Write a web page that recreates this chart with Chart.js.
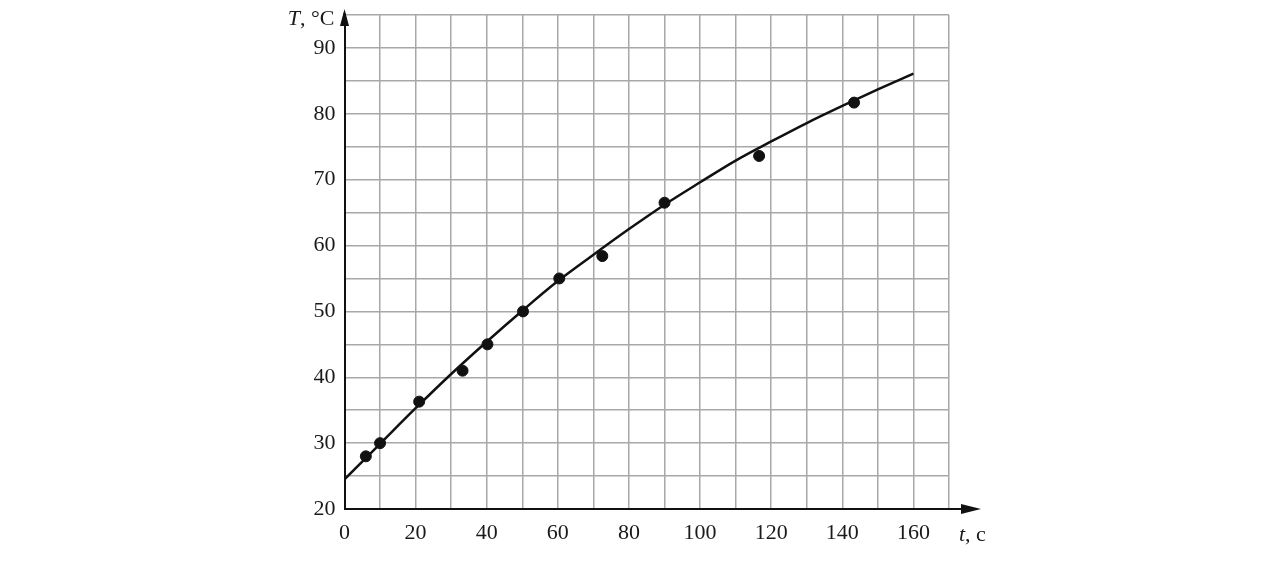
<!DOCTYPE html>
<html>
<head>
<meta charset="utf-8">
<script src="https://cdn.jsdelivr.net/npm/chart.js@4/dist/chart.umd.min.js"></script>
<style>
    html, body { margin: 0; padding: 0; background: #fff; }
    .chart-wrap { width: 1287px; height: 588px; position: relative; }
</style>
</head>
<body>
<div class="chart-wrap"><canvas id="myChart"></canvas></div>
<script>
'use strict'

// measured points
const pointTimes = [6, 10, 21, 33.2, 40.2, 50.2, 60.4, 72.5, 90, 116.6, 143.3]
const pointTemps = [28, 30, 36.3, 41, 45, 50, 55, 58.4, 66.5, 73.6, 81.7]

// fitted curve, every 10 s
const curveTimes = [0, 10, 20, 30, 40, 50, 60, 70, 80, 90, 100, 110, 120, 130, 140, 150, 160]
const curveTemps = [24.5, 29.9, 35.3, 40.5, 45.4, 50.1, 54.6, 58.6, 62.5, 66.2, 69.6, 72.9, 75.8, 78.6, 81.2, 83.7, 86.1]

// axes
const xRange = [0, 170]
const yRange = [20, 95]
const xLabelStep = 20
const yLabelStep = 10
const xLastLabel = 160
const yLastLabel = 90
const xTitle = ['t', ', c']
const yTitle = ['T', ', °C']

const FONT = 'Liberation Serif, Times New Roman, serif'
const FSIZE = 22

document.addEventListener("DOMContentLoaded", () => {
    Diagramm()
})

function toXY(xs, ys) {
    return xs.map((x, i) => ({ x: x, y: ys[i] }))
}

const axisArrows = {
    id: 'axisArrows',
    afterDraw(chart) {
        const ctx = chart.ctx
        const a = chart.chartArea
        ctx.save()
        ctx.strokeStyle = '#111'
        ctx.fillStyle = '#111'
        ctx.lineWidth = 2

        // x axis extension + arrow
        ctx.beginPath()
        ctx.moveTo(a.right, a.bottom)
        ctx.lineTo(a.right + 20, a.bottom)
        ctx.stroke()
        ctx.beginPath()
        ctx.moveTo(a.right + 32, a.bottom)
        ctx.lineTo(a.right + 12, a.bottom - 5)
        ctx.lineTo(a.right + 12, a.bottom + 5)
        ctx.closePath()
        ctx.fill()

        // y axis extension + arrow
        ctx.beginPath()
        ctx.moveTo(a.left, a.top)
        ctx.lineTo(a.left, a.top - 2)
        ctx.stroke()
        ctx.beginPath()
        ctx.moveTo(a.left, a.top - 6)
        ctx.lineTo(a.left - 4.5, a.top + 11)
        ctx.lineTo(a.left + 4.5, a.top + 11)
        ctx.closePath()
        ctx.fill()

        // axis titles
        ctx.fillStyle = '#1a1a1a'
        ctx.textBaseline = 'alphabetic'
        ctx.textAlign = 'left'
        let x = a.right + 10
        let y = a.bottom + 32
        ctx.font = 'italic ' + FSIZE + 'px ' + FONT
        ctx.fillText(xTitle[0], x, y)
        x += ctx.measureText(xTitle[0]).width
        ctx.font = FSIZE + 'px ' + FONT
        ctx.fillText(xTitle[1], x, y)

        ctx.font = 'italic ' + FSIZE + 'px ' + FONT
        const w0 = ctx.measureText(yTitle[0]).width
        ctx.font = FSIZE + 'px ' + FONT
        const w1 = ctx.measureText(yTitle[1]).width
        x = a.left - 10 - w0 - w1
        y = a.top + 10
        ctx.font = 'italic ' + FSIZE + 'px ' + FONT
        ctx.fillText(yTitle[0], x, y)
        ctx.font = FSIZE + 'px ' + FONT
        ctx.fillText(yTitle[1], x + w0, y)
        ctx.restore()
    }
}

function Diagramm() {
    const ctx = document.getElementById('myChart').getContext('2d')

    const chart = new Chart(ctx, {
        type: 'scatter',
        data: {
            datasets: [{
                label: 'curve',
                data: toXY(curveTimes, curveTemps),
                showLine: true,
                borderColor: '#111',
                borderWidth: 2.5,
                pointRadius: 0,
                cubicInterpolationMode: 'monotone',
                order: 2
            }, {
                label: 'points',
                data: toXY(pointTimes, pointTemps),
                backgroundColor: '#111',
                borderColor: '#111',
                pointRadius: 5.5,
                order: 1
            }]
        },
        options: {
            responsive: true,
            maintainAspectRatio: false,
            animation: false,
            events: [],
            layout: { padding: { top: 15, right: 338, left: 0, bottom: 0 } },
            plugins: {
                legend: { display: false },
                tooltip: { enabled: false }
            },
            scales: {
                x: {
                    type: 'linear',
                    min: xRange[0],
                    max: xRange[1],
                    afterFit: scale => {
                        scale.height = 79
                        scale.paddingLeft = 0
                        scale.paddingRight = 0
                    },
                    ticks: {
                        stepSize: 10,
                        autoSkip: false,
                        maxRotation: 0,
                        padding: 11,
                        color: '#1a1a1a',
                        font: { family: FONT, size: FSIZE },
                        callback: v => (v % xLabelStep === 0 && v <= xLastLabel) ? v : ''
                    },
                    grid: { color: '#a8a8a8', lineWidth: 1.5, drawTicks: false },
                    border: { color: '#111', width: 2 }
                },
                y: {
                    type: 'linear',
                    min: yRange[0],
                    max: yRange[1],
                    afterFit: scale => {
                        scale.width = 344.5
                        scale.paddingTop = 0
                        scale.paddingBottom = 0
                    },
                    ticks: {
                        stepSize: 5,
                        autoSkip: false,
                        padding: 9,
                        color: '#1a1a1a',
                        font: { family: FONT, size: FSIZE },
                        callback: v => (v % yLabelStep === 0 && v <= yLastLabel) ? v : ''
                    },
                    grid: { color: '#a8a8a8', lineWidth: 1.5, drawTicks: false },
                    border: { color: '#111', width: 2 }
                }
            }
        },
        plugins: [axisArrows]
    })
    chart.update()
}
</script>
</body>
</html>
